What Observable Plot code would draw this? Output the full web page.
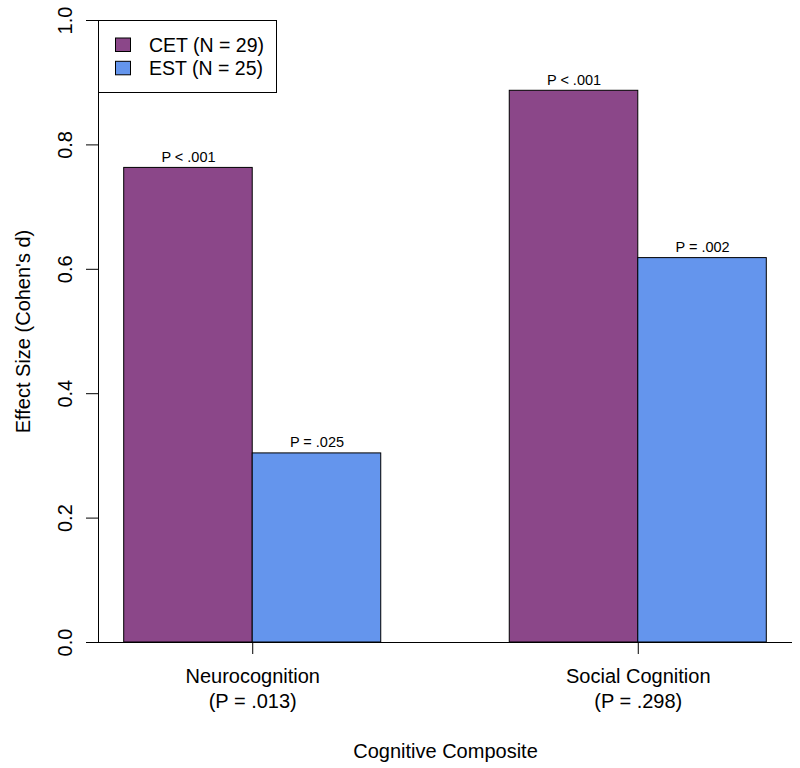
<!DOCTYPE html>
<html><head><meta charset="utf-8">
<script src="https://cdn.jsdelivr.net/npm/d3@7"></script>
<script src="https://cdn.jsdelivr.net/npm/@observablehq/plot@0.6"></script>
<style>
body{margin:0;background:#fff}
#chart{width:800px;height:768px}
</style>
</head><body><div id="chart"></div>
<script>
// ---- data ----
const categories = ["Neurocognition", "Social Cognition"];
const categoryP = ["(P = .013)", "(P = .298)"];
const series = ["CET (N = 29)", "EST (N = 25)"];
const colors = ["#8B4789", "#6495ED"];
const cetValues = [0.763, 0.887];
const estValues = [0.304, 0.618];
const cetP = ["P < .001", "P < .001"];
const estP = ["P = .025", "P = .002"];
const yTicks = [0, 0.2, 0.4, 0.6, 0.8, 1.0];
const xTitle = "Cognitive Composite";
const yTitle = "Effect Size (Cohen's d)";

// ---- layout like R barplot(beside = TRUE): bar width 1, gap of 1 between groups ----
const values = [cetValues, estValues];
const pLabels = [cetP, estP];
const bars = [];
categories.forEach((cat, g) => {
  series.forEach((s, i) => {
    const x1 = 1 + g * (series.length + 1) + i;
    bars.push({category: cat, series: s, x1, x2: x1 + 1, value: values[i][g], p: pLabels[i][g]});
  });
});
const centers = categories.map((c, g) => 1 + g * (series.length + 1) + series.length / 2);
const lo = d3.min(bars, d => d.x1), hi = d3.max(bars, d => d.x2);
const pad = 0.04 * (hi - lo);
const xDomain = [lo - pad, hi + pad];
const yDomain = [0, 1];

const font = "'Liberation Sans', Arial, Helvetica, sans-serif";

const plot = Plot.plot({
  width: 800,
  height: 768,
  marginLeft: 98,
  marginRight: 8,
  marginTop: 20,
  marginBottom: 126,
  style: {fontFamily: font, fontSize: "20px", color: "black", background: "white"},
  x: {domain: xDomain, axis: null},
  y: {domain: yDomain, axis: null},
  color: {domain: series, range: colors},
  marks: [
    Plot.rectY(bars, {x1: "x1", x2: "x2", y1: 0, y2: "value", fill: "series", stroke: "black", strokeWidth: 1}),
    Plot.text(bars, {x: d => (d.x1 + d.x2) / 2, y: "value", text: "p", dy: -6, lineAnchor: "bottom", fontSize: 14.5, fill: "black"}),
    Plot.ruleY([0], {stroke: "black"}),
    Plot.ruleX([xDomain[0]], {y1: yDomain[0], y2: yDomain[1], stroke: "black"}),
    Plot.axisY({ticks: yTicks, tickSize: 12, tickPadding: 14.3, tickRotate: -90, tickFormat: d3.format(".1f"), fontSize: 20, stroke: "black", fill: "black", label: null}),
    Plot.axisX({ticks: centers, tickSize: 12, tickPadding: 11, tickFormat: c => {
      const g = centers.indexOf(c);
      return categories[g] + "\n" + categoryP[g];
    }, fontSize: 20, lineHeight: 1.25, stroke: "black", fill: "black", label: null}),
    Plot.text([xTitle], {frameAnchor: "bottom", dy: 115, lineAnchor: "bottom", textAnchor: "middle", fontSize: 20, fill: "black"}),
    Plot.text([yTitle], {frameAnchor: "left", dx: -69, rotate: -90, lineAnchor: "bottom", textAnchor: "middle", fontSize: 20, fill: "black"})
  ]
});

// ---- legend (top-left corner of plot region, like R legend("topleft")) ----
const sx = plot.scale("x"), sy = plot.scale("y");
const legLeft = sx.apply(xDomain[0]), legTop = sy.apply(yDomain[1]);
const svg = d3.select(plot);
const lg = svg.append("g").attr("transform", `translate(${legLeft},${legTop})`);
lg.append("rect").attr("x", 0.5).attr("y", 0.5).attr("width", 178).attr("height", 72)
  .attr("fill", "white").attr("stroke", "black");
series.forEach((s, i) => {
  lg.append("rect").attr("x", 17.5).attr("y", 18 + i * 23.3).attr("width", 15).attr("height", 13.5)
    .attr("fill", colors[i]).attr("stroke", "black");
  lg.append("text").attr("x", 51).attr("y", 31.7 + i * 23.3)
    .attr("text-anchor", "start")
    .attr("font-family", font).attr("font-size", 19.5).attr("fill", "black").text(s);
});

document.getElementById("chart").appendChild(plot);
</script>
</body></html>
